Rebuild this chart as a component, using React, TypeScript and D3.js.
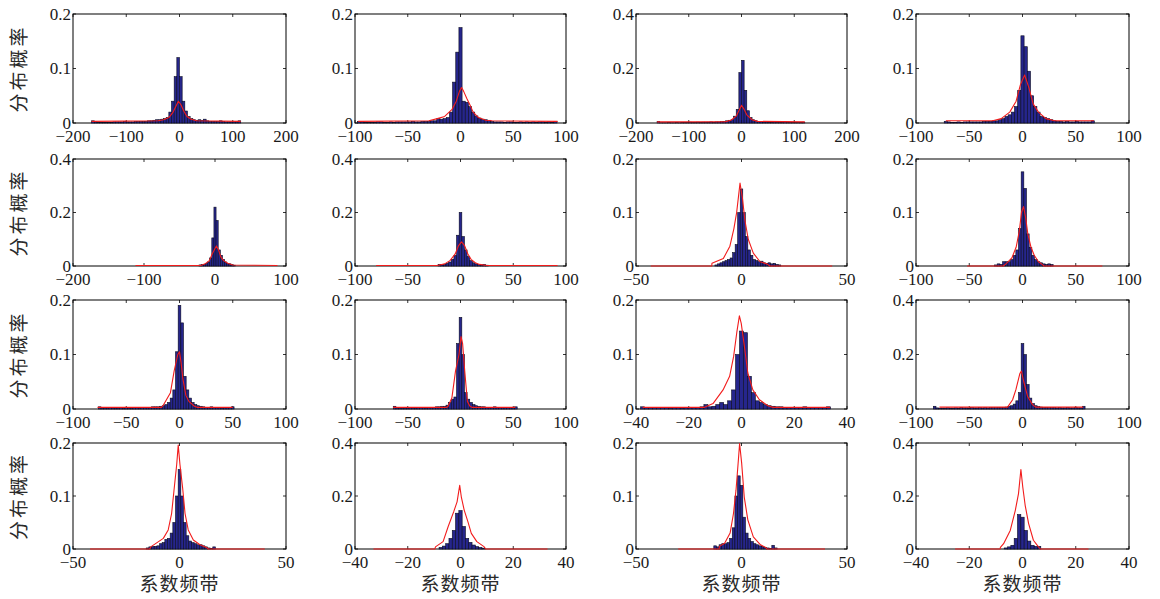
import React from "react";
import { scaleLinear, line } from "d3";

// histogram heights per panel (bins of equal width starting at binStart)
const p1Bins = [0.004,0.002,0.001,0.001,0.001,0.001,0.001,0.001,0.002,0.002,0.002,0.002,0.003,0.002,0.002,0.002,0.003,0.003,0.003,0.003,0.003,0.004,0.004,0.005,0.006,
  0.006,0.007,0.008,0.01,0.02,0.04,0.085,0.12,0.085,0.04,0.022,0.012,0.008,0.006,0.005,0.006,
  0.005,0.007,0.004,0.003,0.003,0.003,0.003,0.004,0.003,0.002,0.002,0.002,0.002,0.002,0.004];
const p1Curve = [[-165,0.003],[-40,0.004],[-30,0.006],[-20,0.01],[-12,0.02],[-6,0.032],[-2,0.04],[3,0.033],[8,0.022],[14,0.012],[22,0.007],[32,0.004],[115,0.003]];

const p2Bins = [0.003,
  0.002,0.001,0.001,0.001,0.001,0.002,0.002,0.001,0.001,0.002,0.001,0.002,0.002,0.002,0.002,0.002,0.003,0.002,0.002,0.003,
  0.003,0.003,0.004,0.004,0.008,0.007,0.008,0.01,0.02,0.075,0.13,
  0.175,
  0.04,0.038,0.03,0.02,0.013,0.009,0.007,0.006,0.005,0.003,
  0.002,0.002,0.002,0.001,0.002,0.002,0.001,0.001,0.002,0.001,0.002,0.001,0.002,0.001,0.002,0.002,0.001,0.002,0.001,0.003];
const p2Curve = [[-97,0.003],[-30,0.004],[-22,0.008],[-15,0.012],[-8,0.025],[-4,0.04],[-1,0.058],[1,0.065],[3,0.058],[6,0.045],[9,0.033],[12,0.02],[17,0.01],[24,0.005],[30,0.004],[92,0.003]];

const p3Bins = [0.006,0.001,0.001,0.001,0.002,0.001,0.001,0.002,0.001,0.002,0.002,0.002,0.003,0.002,0.002,0.003,0.002,0.003,0.003,0.003,0.004,0.003,0.004,0.004,0.005,0.006,0.008,0.01,
  0.012,0.025,0.05,0.185,0.23,0.12,0.045,0.02,0.012,0.008,0.006,0.005,
  0.004,0.004,0.003,0.003,0.004,0.003,0.003,0.003,0.004,0.003,0.003,0.002,0.002,0.002,0.002,0.003];
const p3Curve = [[-160,0.004],[-30,0.005],[-20,0.01],[-10,0.025],[-5,0.045],[0,0.065],[5,0.05],[10,0.03],[20,0.012],[30,0.006],[120,0.004]];

const p4Bins = [0.003,0.002,0.001,0.001,0.002,0.001,0.002,0.002,0.002,0.002,0.002,0.002,0.003,0.003,0.003,0.004,
  0.004,0.006,0.008,0.012,0.015,0.02,0.03,0.06,0.16,0.14,0.095,0.05,0.03,0.02,0.012,0.01,0.008,0.006,0.004,
  0.003,0.003,0.002,0.003,0.002,0.002,0.003,0.002,0.002,0.002,0.002,0.004];
const p4Curve = [[-72,0.004],[-28,0.004],[-20,0.008],[-12,0.02],[-6,0.04],[-2,0.07],[2,0.088],[6,0.065],[10,0.035],[15,0.02],[22,0.008],[30,0.004],[67,0.004]];

const p5Bins = [0.004,0.005,0.006,0.01,0.015,0.03,0.105,0.22,0.17,0.06,0.04,0.025,0.015,0.01,0.008,0.005,0.003];
const p5Curve = [[-112,0.002],[-20,0.002],[-14,0.008],[-8,0.02],[-4,0.045],[0,0.065],[2,0.075],[5,0.06],[8,0.035],[12,0.02],[18,0.01],[25,0.004],[88,0.002]];

const p6Bins = [0.006,0.004,0.006,0.01,0.015,0.025,0.04,0.115,0.2,0.11,0.06,0.035,0.02,0.012,0.008,0.005,0.004,0.006,0.003];
const p6Curve = [[-80,0.002],[-22,0.002],[-15,0.008],[-10,0.02],[-5,0.045],[-2,0.075],[1,0.09],[4,0.075],[7,0.045],[10,0.025],[14,0.012],[18,0.006],[25,0.002],[92,0.002]];

const p7Bins = [0.002,0.004,0.006,0.008,0.01,0.012,0.015,0.025,0.04,0.1,0.144,0.1,0.055,0.03,0.02,0.012,0.01,0.008,0.009,0.006,0.005,0.006,0.004,0.005,0.003,0.002];
const p7Curve = [[-43,0],[-14.1,0],[-14,0.005],[-8.6,0.014],[-5.5,0.037],[-3.6,0.07],[-2.3,0.1],[-0.7,0.155],[0.5,0.125],[1.6,0.086],[3.2,0.05],[5.6,0.024],[8.8,0.008],[12,0.004],[13.5,0],[43,0]];

const p8Bins = [0.002,0.004,0.003,0.008,0.008,0.008,0.012,0.02,0.03,0.07,0.176,0.145,0.06,0.035,0.02,0.012,0.008,0.006,0.004,0.003,0.004,0.003];
const p8Curve = [[-52,0],[-18,0],[-15,0.005],[-10,0.015],[-6,0.035],[-3,0.065],[-1,0.1],[1,0.111],[3,0.09],[5,0.06],[8,0.035],[11,0.02],[15,0.008],[19,0.002],[20,0],[75,0]];

const p9Bins = [0.004,0.002,0.002,0.002,0.003,0.002,0.002,0.002,0.003,0.002,0.003,0.002,0.002,0.003,0.003,0.002,0.003,0.003,0.003,0.003,0.004,0.004,
  0.004,0.005,0.006,0.008,0.012,0.02,0.035,0.105,0.19,0.158,0.06,0.035,0.02,0.012,0.008,0.006,0.005,
  0.004,0.003,0.003,0.004,0.003,0.003,0.003,0.002,0.003,0.003,0.003,0.004];
const p9Curve = [[-77,0.003],[-17,0.003],[-15.5,0.006],[-8.5,0.03],[-5,0.07],[-1.6,0.1],[0,0.105],[1.5,0.085],[3.3,0.054],[6,0.025],[8.8,0.014],[14,0.005],[17,0.003],[50,0.003]];

const p10Bins = [0.005,0.002,0.002,0.002,0.002,0.002,0.003,0.002,0.002,0.003,0.003,0.003,0.002,0.003,0.003,0.003,0.004,
  0.004,0.005,0.005,0.007,0.012,0.018,0.022,0.12,0.168,0.1,0.03,0.018,0.012,0.008,0.006,0.005,0.004,
  0.004,0.003,0.003,0.003,0.004,0.003,0.003,0.003,0.003,0.003,0.003,0.003,0.004];
const p10Curve = [[-64,0.003],[-13,0.003],[-11.8,0.005],[-8.2,0.02],[-4.7,0.07],[-1.4,0.1],[0.5,0.133],[2,0.12],[4,0.07],[6.5,0.014],[9,0.005],[11,0.003],[52,0.003]];

const p11Bins = [0.004,0.003,0.003,0.003,0.003,0.003,0.003,0.002,0.003,0.003,0.002,0.003,0.003,0.003,0.003,0.004,
  0.008,0.004,0.005,0.008,0.012,0.008,0.015,0.035,0.1,0.143,0.14,0.06,0.03,0.015,0.012,0.008,0.006,0.005,
  0.004,0.004,0.003,0.003,0.003,0.003,0.003,0.004,0.003,0.003,0.003,0.003,0.003,0.004];
const p11Curve = [[-37.5,0.003],[-14,0.003],[-10.8,0.01],[-7,0.035],[-4.5,0.06],[-3,0.096],[-1.8,0.14],[-0.8,0.171],[-0.1,0.157],[1.1,0.115],[2.4,0.066],[4.3,0.035],[6.8,0.017],[10,0.006],[12,0.003],[33.6,0.003]];

const p12Bins = [0.01,0.004,0.003,0.003,0.003,0.004,0.003,0.003,0.004,0.003,0.005,0.004,0.004,0.003,0.005,0.004,0.004,0.005,0.004,0.005,0.004,0.005,0.005,0.005,0.006,0.006,
  0.006,0.007,0.01,0.012,0.018,0.03,0.06,0.24,0.2,0.09,0.04,0.02,0.012,0.009,0.007,
  0.006,0.006,0.005,0.005,0.005,0.004,0.005,0.004,0.004,0.005,0.004,0.004,0.005,0.004,0.004,0.01];
const p12Curve = [[-78,0.007],[-14,0.007],[-9.3,0.034],[-6.2,0.071],[-2.5,0.13],[-1,0.139],[1.2,0.1],[4.7,0.047],[9.4,0.016],[12.5,0.007],[57,0.007]];

const p13Bins = [0.002,0.004,0.005,0.005,0.006,0.01,0.012,0.018,0.02,0.03,0.05,0.1,0.15,0.1,0.05,0.025,0.015,0.012,0.01,0.008,0.008,0.006,0.004,0.002,0.001,0.004];
const p13Curve = [[-42,0],[-14,0],[-13.5,0.004],[-7.6,0.02],[-5.3,0.036],[-3.7,0.067],[-2.6,0.11],[-1.3,0.16],[-0.6,0.196],[0.2,0.16],[1.5,0.114],[2.6,0.067],[4.1,0.036],[6.5,0.017],[9.6,0.008],[12.7,0.003],[13.5,0],[40,0]];

const p14Bins = [0.006,0.011,0.02,0.04,0.07,0.135,0.145,0.085,0.04,0.025,0.015,0.009,0.006,0.003];
const p14Curve = [[-33,0],[-9.7,0],[-9.5,0.008],[-6.6,0.028],[-4.7,0.084],[-2.6,0.14],[-1.3,0.178],[-0.3,0.24],[0.3,0.197],[1.4,0.147],[2.8,0.103],[4.1,0.059],[6.2,0.028],[8.9,0.009],[9.5,0],[33,0]];

const p15Bins = [0.006,0.004,0.008,0.01,0.01,0.012,0.02,0.04,0.1,0.138,0.12,0.06,0.03,0.02,0.014,0.01,0.008,0.006,0.005,0.003,0.002,0.001,0.007,0.002];
const p15Curve = [[-30,0],[-10.6,0],[-10.5,0.005],[-8,0.011],[-5.4,0.03],[-3.8,0.067],[-2.6,0.111],[-1.5,0.167],[-0.9,0.199],[0.1,0.161],[1.3,0.098],[3,0.055],[5.6,0.023],[9,0.008],[11.5,0.003],[12,0],[39.6,0]];

const p16Bins = [0.004,0.008,0.014,0.04,0.13,0.12,0.07,0.03,0.014,0.01,0.01];
const p16Curve = [[-25.3,0],[-8.4,0],[-8.3,0.006],[-7.1,0.02],[-4.6,0.07],[-2.7,0.146],[-1.5,0.209],[-0.6,0.3],[0.1,0.234],[1,0.165],[2.3,0.096],[4.1,0.033],[6,0.008],[6.7,0],[24.8,0]];

const ticks200 = [-200, -100, 0, 100, 200];
const ticks100 = [-100, -50, 0, 50, 100];
const ticks50 = [-50, 0, 50];
const ticks40 = [-40, -20, 0, 20, 40];
const ticksM200 = [-200, -100, 0, 100];
const yTicksSmall = [0, 0.1, 0.2];
const yTicksLarge = [0, 0.2, 0.4];

const yLabel = "分布概率";
const xLabel = "系数频带";

const panels = [
  { xDomain: [-200, 200], xTicks: ticks200, yMax: 0.2, yTicks: yTicksSmall, binStart: -165, binWidth: 5, bins: p1Bins, curve: p1Curve },
  { xDomain: [-100, 100], xTicks: ticks100, yMax: 0.2, yTicks: yTicksSmall, binStart: -97.5, binWidth: 3, bins: p2Bins, curve: p2Curve },
  { xDomain: [-200, 200], xTicks: ticks200, yMax: 0.4, yTicks: yTicksLarge, binStart: -160, binWidth: 5, bins: p3Bins, curve: p3Curve },
  { xDomain: [-100, 100], xTicks: ticks100, yMax: 0.2, yTicks: yTicksSmall, binStart: -73.5, binWidth: 3, bins: p4Bins, curve: p4Curve },
  { xDomain: [-200, 100], xTicks: ticksM200, yMax: 0.4, yTicks: yTicksLarge, binStart: -22.5, binWidth: 3, bins: p5Bins, curve: p5Curve },
  { xDomain: [-100, 100], xTicks: ticks100, yMax: 0.4, yTicks: yTicksLarge, binStart: -21.25, binWidth: 2.5, bins: p6Bins, curve: p6Curve },
  { xDomain: [-50, 50], xTicks: ticks50, yMax: 0.2, yTicks: yTicksSmall, binStart: -12.6, binWidth: 1.2, bins: p7Bins, curve: p7Curve },
  { xDomain: [-100, 100], xTicks: ticks100, yMax: 0.2, yTicks: yTicksSmall, binStart: -26.25, binWidth: 2.5, bins: p8Bins, curve: p8Curve },
  { xDomain: [-100, 100], xTicks: ticks100, yMax: 0.2, yTicks: yTicksSmall, binStart: -76.25, binWidth: 2.5, bins: p9Bins, curve: p9Curve },
  { xDomain: [-100, 100], xTicks: ticks100, yMax: 0.2, yTicks: yTicksSmall, binStart: -63.75, binWidth: 2.5, bins: p10Bins, curve: p10Curve },
  { xDomain: [-40, 40], xTicks: ticks40, yMax: 0.2, yTicks: yTicksSmall, binStart: -38.25, binWidth: 1.5, bins: p11Bins, curve: p11Curve },
  { xDomain: [-100, 100], xTicks: ticks100, yMax: 0.4, yTicks: yTicksLarge, binStart: -83.75, binWidth: 2.5, bins: p12Bins, curve: p12Curve },
  { xDomain: [-50, 50], xTicks: ticks50, yMax: 0.2, yTicks: yTicksSmall, binStart: -15.625, binWidth: 1.25, bins: p13Bins, curve: p13Curve },
  { xDomain: [-40, 40], xTicks: ticks40, yMax: 0.4, yTicks: yTicksLarge, binStart: -8.125, binWidth: 1.25, bins: p14Bins, curve: p14Curve },
  { xDomain: [-50, 50], xTicks: ticks50, yMax: 0.2, yTicks: yTicksSmall, binStart: -13.125, binWidth: 1.25, bins: p15Bins, curve: p15Curve },
  { xDomain: [-40, 40], xTicks: ticks40, yMax: 0.4, yTicks: yTicksLarge, binStart: -6.875, binWidth: 1.25, bins: p16Bins, curve: p16Curve },
];

// layout of the 4x4 grid (pixels)
const colLeft = [73, 355, 636, 916];
const colRight = [286, 566, 847, 1129];
const rowTop = [14, 159, 300, 443];
const rowBottom = [123, 266, 409, 549];

const tickFont = "'Liberation Serif', 'DejaVu Serif', serif";
const cjkFont = "'Noto Sans CJK SC', sans-serif";

const fmtX = (v: number) => (v < 0 ? "\u2212" + Math.abs(v) : String(v));
const fmtY = (v: number) => (v === 0 ? "0" : String(v));

function Panel({ p, row, col }: any) {
  const x = scaleLinear().domain(p.xDomain).range([colLeft[col], colRight[col]]);
  const y = scaleLinear().domain([0, p.yMax]).range([rowBottom[row], rowTop[row]]);
  const path = line<number[]>()
    .x((d) => x(d[0]))
    .y((d) => y(d[1]))(p.curve);
  const top = rowTop[row];
  const bottom = rowBottom[row];
  const left = colLeft[col];
  const right = colRight[col];
  const tl = 3;
  return (
    <g>
      <rect x={left} y={top} width={right - left} height={bottom - top} fill="#fff" stroke="#000" strokeWidth={1} />
      {p.xTicks.map((t: number) => (
        <g key={"xt" + t}>
          <line x1={x(t)} x2={x(t)} y1={bottom} y2={bottom - tl} stroke="#000" strokeWidth={0.8} />
          <line x1={x(t)} x2={x(t)} y1={top} y2={top + tl} stroke="#000" strokeWidth={0.8} />
          <text x={x(t)} y={bottom + 19} textAnchor="middle" fontFamily={tickFont} fontSize={17} fill="#1a1a1a">
            {fmtX(t)}
          </text>
        </g>
      ))}
      {p.yTicks.map((t: number) => (
        <g key={"yt" + t}>
          <line x1={left} x2={left + tl} y1={y(t)} y2={y(t)} stroke="#000" strokeWidth={0.8} />
          <line x1={right} x2={right - tl} y1={y(t)} y2={y(t)} stroke="#000" strokeWidth={0.8} />
          <text x={left - 2} y={y(t)} dy="0.33em" textAnchor="end" fontFamily={tickFont} fontSize={17} fill="#1a1a1a">
            {fmtY(t)}
          </text>
        </g>
      ))}
      {p.bins.map((h: number, i: number) => {
        const x0 = p.binStart + i * p.binWidth;
        const x1 = x0 + p.binWidth;
        if (h <= 0) return null;
        return (
          <rect
            key={"b" + i}
            x={x(x0)}
            y={y(h)}
            width={x(x1) - x(x0)}
            height={y(0) - y(h)}
            fill="#26268c"
            stroke="#0a0a20"
            strokeWidth={0.6}
          />
        );
      })}
      <path d={path || ""} fill="none" stroke="#f21c1c" strokeWidth={1.1} strokeLinejoin="round" />
      {col === 0 && (
        <text
          transform={`translate(19, ${(top + bottom) / 2}) rotate(-90)`}
          textAnchor="middle"
          dy="0.35em"
          fontFamily={cjkFont}
          fontSize={19}
          letterSpacing={3}
          fill="#2a2a2a"
        >
          {yLabel}
        </text>
      )}
      {row === 3 && (
        <text
          x={(left + right) / 2}
          y={584}
          dy="0.35em"
          textAnchor="middle"
          fontFamily={cjkFont}
          fontSize={19}
          letterSpacing={1}
          fill="#2a2a2a"
        >
          {xLabel}
        </text>
      )}
    </g>
  );
}

export default function App() {
  return (
    <div style={{ position: "absolute", left: 0, top: 0 }}>
      <svg width={1160} height={599} style={{ display: "block", background: "#fff" }}>
        {panels.map((p, i) => (
          <Panel key={i} p={p} row={Math.floor(i / 4)} col={i % 4} />
        ))}
      </svg>
    </div>
  );
}
